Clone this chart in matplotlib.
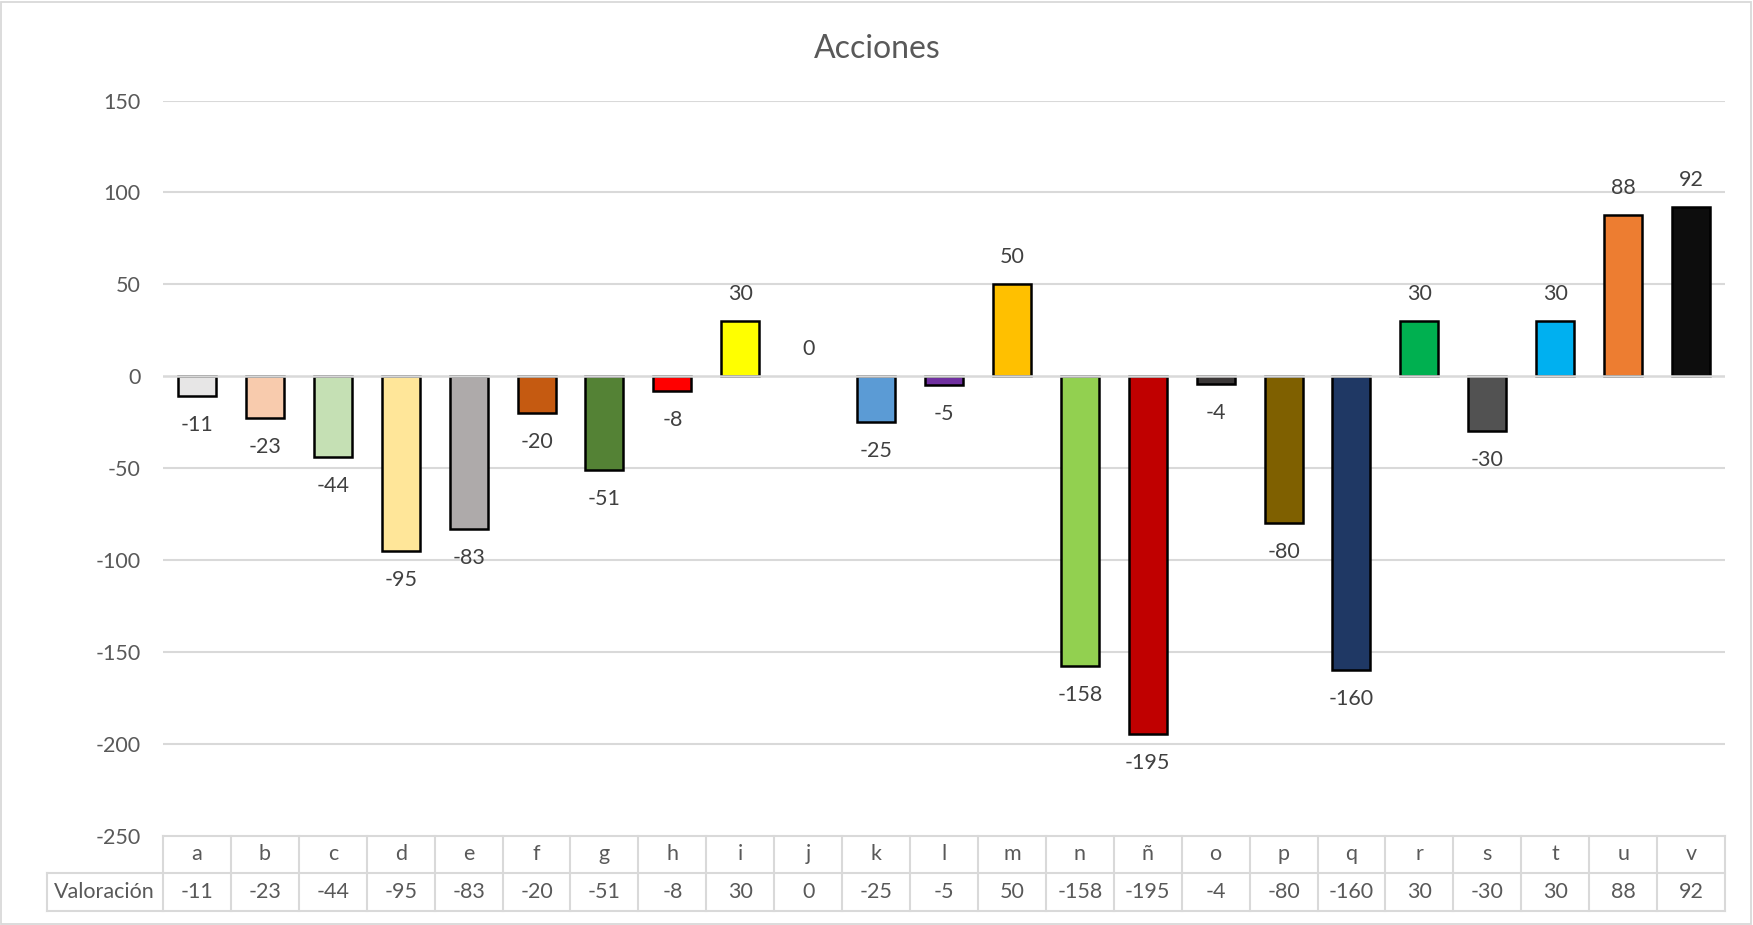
import matplotlib
matplotlib.use("Agg")
import matplotlib.pyplot as plt
from matplotlib.lines import Line2D

plt.rcParams['font.family'] = ['Lato', 'DejaVu Sans']

categories = ['a', 'b', 'c', 'd', 'e', 'f', 'g', 'h', 'i', 'j', 'k', 'l', 'm',
              'n', 'ñ', 'o', 'p', 'q', 'r', 's', 't', 'u', 'v']
valoracion = [-11, -23, -44, -95, -83, -20, -51, -8, 30, 0, -25, -5, 50,
              -158, -195, -4, -80, -160, 30, -30, 30, 88, 92]
colors = ['#E7E6E6', '#F8CBAD', '#C5E0B4', '#FFE699', '#AEAAAA', '#C55A11',
          '#548235', '#FF0000', '#FFFF00', '#FFFFFF', '#5B9BD5', '#7030A0',
          '#FFC000', '#92D050', '#C00000', '#3B3838', '#7F6000', '#1F3864',
          '#00B050', '#525252', '#00B0F0', '#ED7D31', '#0D0D0D']
yticks = [-250, -200, -150, -100, -50, 0, 50, 100, 150]
title = 'Acciones'
row_label = 'Valoración'

W, H = 1753, 925
fig = plt.figure(figsize=(W / 100, H / 100), dpi=100)
txt = '#595959'
grid = '#D9D9D9'
fs = 15.5

# outer border
fig.patches.append(plt.Rectangle((1 / W, 1 / H), (W - 3) / W, (H - 3) / H,
                                 transform=fig.transFigure, fill=False,
                                 edgecolor='#D9D9D9', linewidth=1.3))

x0, x1 = 163, 1725
ytop, ybot = 100.6, 835.5
ax = fig.add_axes([x0 / W, 1 - ybot / H, (x1 - x0) / W, (ybot - ytop) / H])
n = len(categories)
ax.set_xlim(-0.5, n - 0.5)
ax.set_ylim(-250, 150)
for s in ax.spines.values():
    s.set_visible(False)
ax.set_yticks(yticks)
ax.set_yticklabels([str(v) for v in yticks])
ax.tick_params(axis='y', length=0, pad=16, labelsize=fs, labelcolor=txt)
ax.set_xticks([])
for v in yticks:
    if v not in (0, -250):
        ax.axhline(v, color=grid, linewidth=1.5, zorder=0)

xs = list(range(n))
bars = ax.bar(xs, valoracion, width=0.56, color=colors, edgecolor='black',
              linewidth=1.8, zorder=2)
for i, v in enumerate(valoracion):
    if v == 0:
        bars[i].set_visible(False)
ax.axhline(0, color='#D9D9D9', linewidth=1.8, zorder=3)

for xi, v in zip(xs, valoracion):
    off = 27 if v >= 0 else -29
    ax.annotate(str(v), (xi, v), xytext=(0, off), textcoords='offset pixels',
                ha='center', va='center', fontsize=fs, color='#404040')

fig.text(877 / W, 1 - 49 / H, title, ha='center', va='center', fontsize=23,
         color=txt)

# data table
tb_top, tb_mid, tb_bot = 835.5, 872.7, 911
tx = fig.add_axes([x0 / W, 1 - tb_bot / H, (x1 - x0) / W, (tb_bot - tb_top) / H])
tx.set_xlim(-0.5, n - 0.5)
tx.set_ylim(0, 2)
tx.axis('off')
cw = (x1 - x0) / n
lab_left = -0.5 - (x0 - 46.5) / cw
lw = 1.5
def L(xa, ya, **kw):
    tx.add_line(Line2D(xa, ya, color=grid, linewidth=lw, clip_on=False, **kw))
L([-0.5, n - 0.5], [2, 2])
L([lab_left, n - 0.5], [1, 1])
L([lab_left, n - 0.5], [0, 0])
L([lab_left, lab_left], [0, 1])
for k in range(n + 1):
    L([k - 0.5, k - 0.5], [0, 2])
for xi, c, v in zip(xs, categories, valoracion):
    tx.text(xi, 1.5, c, ha='center', va='center', fontsize=fs, color=txt)
    tx.text(xi, 0.5, str(v), ha='center', va='center', fontsize=fs, color=txt)
tx.text((lab_left - 0.5) / 2, 0.5, row_label, ha='center', va='center',
        fontsize=fs, color=txt)

fig.savefig('out.png', dpi=100)
